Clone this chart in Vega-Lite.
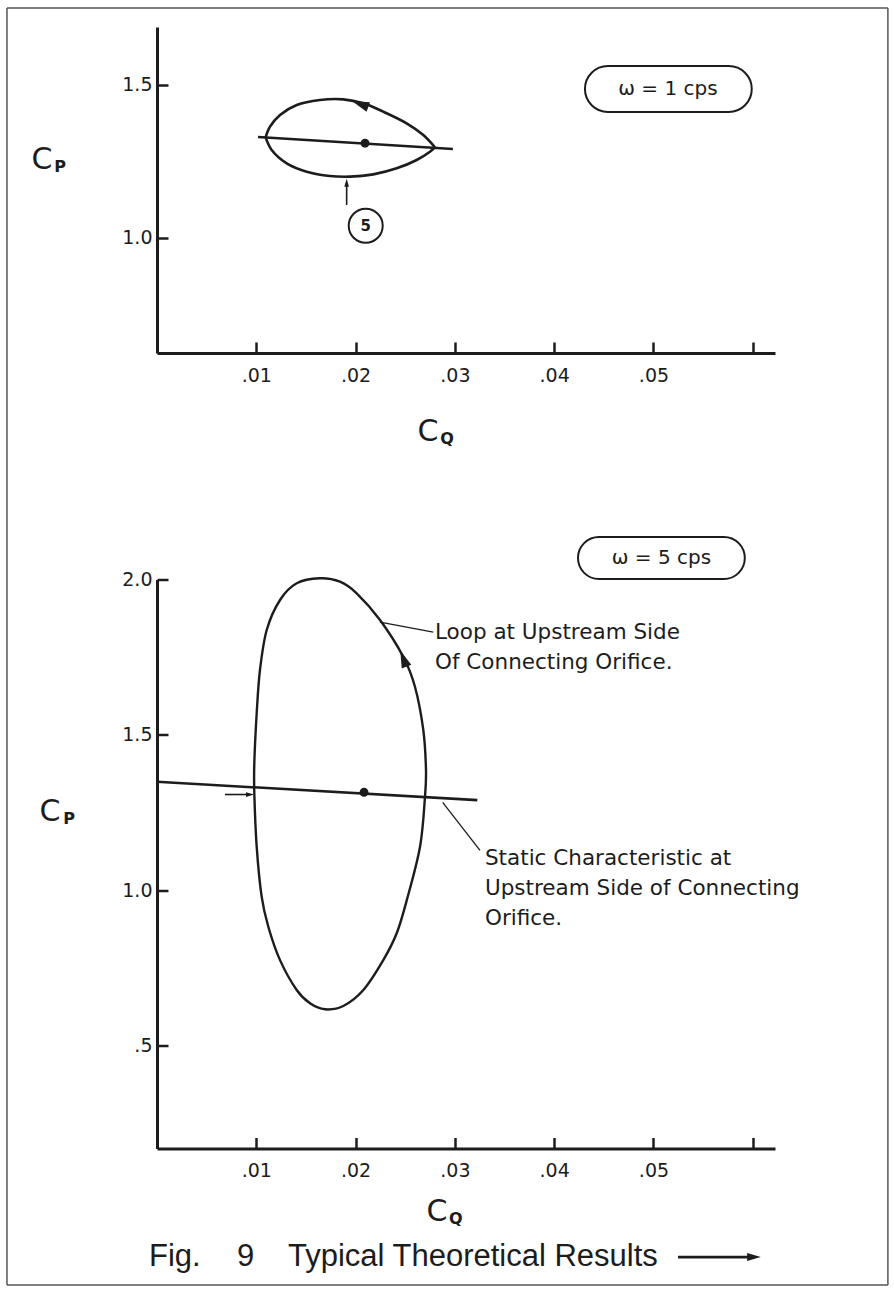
{
  "$schema": "https://vega.github.io/schema/vega-lite/v6.json",
  "background": "#ffffff",
  "padding": {"left": 6, "top": 7, "right": 4, "bottom": 4},
  "spacing": 226.5,
  "bounds": "flush",
  "config": {
    "view": {"stroke": null},
    "axis": {
      "grid": false,
      "domainWidth": 3,
      "domainColor": "#1c1c1c",
      "tickColor": "#1c1c1c",
      "tickWidth": 2.5,
      "tickSize": -11,
      "labelFont": "DejaVu Sans",
      "labelFontSize": 19,
      "labelColor": "#1c1c1c",
      "labelFlush": false,
      "labelBound": false,
      "labelOverlap": false
    },
    "text": {"font": "DejaVu Sans", "color": "#1c1c1c"}
  },
  "datasets": {
    "border1": [
      {"cq": -0.01511, "cq2": 0.07361, "cp": 1.7516, "cp2": 1.7516},
      {"cq": -0.01511, "cq2": -0.01511, "cp": 1.7516, "cp2": 0.2549},
      {"cq": 0.07361, "cq2": 0.07361, "cp": 1.7516, "cp2": 0.2549}
    ],
    "loop1": [
      {"seg": "u", "i": 1, "cq": 0.02800, "cp": 1.2964},
      {"seg": "u", "i": 2, "cq": 0.02682, "cp": 1.3366},
      {"seg": "u", "i": 3, "cq": 0.02514, "cp": 1.3748},
      {"seg": "u", "i": 4, "cq": 0.02279, "cp": 1.4128},
      {"seg": "u", "i": 5, "cq": 0.02078, "cp": 1.4402},
      {"seg": "u", "i": 6, "cq": 0.01876, "cp": 1.4531},
      {"seg": "u", "i": 7, "cq": 0.01641, "cp": 1.4510},
      {"seg": "u", "i": 8, "cq": 0.01407, "cp": 1.4346},
      {"seg": "u", "i": 9, "cq": 0.01239, "cp": 1.4020},
      {"seg": "u", "i": 10, "cq": 0.01138, "cp": 1.3638},
      {"seg": "u", "i": 11, "cq": 0.01094, "cp": 1.3290},
      {"seg": "l", "i": 11, "cq": 0.01094, "cp": 1.3290},
      {"seg": "l", "i": 12, "cq": 0.01155, "cp": 1.2876},
      {"seg": "l", "i": 13, "cq": 0.01306, "cp": 1.2440},
      {"seg": "l", "i": 14, "cq": 0.01507, "cp": 1.2168},
      {"seg": "l", "i": 15, "cq": 0.01742, "cp": 1.2026},
      {"seg": "l", "i": 16, "cq": 0.01944, "cp": 1.2004},
      {"seg": "l", "i": 17, "cq": 0.02178, "cp": 1.2080},
      {"seg": "l", "i": 18, "cq": 0.02414, "cp": 1.2277},
      {"seg": "l", "i": 19, "cq": 0.02615, "cp": 1.2549},
      {"seg": "l", "i": 20, "cq": 0.02749, "cp": 1.2821},
      {"seg": "l", "i": 21, "cq": 0.02800, "cp": 1.2964}
    ],
    "static1": [
      {"i": 1, "cq": 0.01017, "cp": 1.330},
      {"i": 2, "cq": 0.02980, "cp": 1.291}
    ],
    "dot1": [{"cq": 0.02095, "cp": 1.310}],
    "arrow1": [{"cq": 0.02060, "cp": 1.436}],
    "pointer1": [{"cq": 0.0191, "cq2": 0.0191, "cp": 1.108, "cp2": 1.180}],
    "pointerhead1": [{"cq": 0.0191, "cp": 1.178}],
    "tag1": [{"cq": 0.02102, "cp": 1.040, "t": "5"}],
    "box1": [{"cq": 0.0431, "cq2": 0.0599, "cp": 1.412, "cp2": 1.562, "t": "ω = 1 cps", "cqm": 0.05146, "cpm": 1.487}],
    "big1": [
      {"cq": -0.01158, "cp": 1.255, "t": "C"},
      {"cq": 0.02729, "cp": 0.366, "t": "C"}
    ],
    "sub1": [
      {"cq": -0.00977, "cp": 1.232, "t": "P"},
      {"cq": 0.02920, "cp": 0.343, "t": "Q"}
    ],
    "border2": [
      {"cq": -0.01511, "cq2": -0.01511, "cp": 2.3653, "cp2": -0.2707},
      {"cq": 0.07361, "cq2": 0.07361, "cp": 2.3653, "cp2": -0.2707},
      {"cq": -0.01511, "cq2": 0.07361, "cp": -0.2707, "cp2": -0.2707}
    ],
    "loop2": [
      {"i": 1, "cq": 0.01641, "cp": 2.0039},
      {"i": 2, "cq": 0.01407, "cp": 1.9878},
      {"i": 3, "cq": 0.01239, "cp": 1.9340},
      {"i": 4, "cq": 0.01105, "cp": 1.8375},
      {"i": 5, "cq": 0.01037, "cp": 1.7087},
      {"i": 6, "cq": 0.01004, "cp": 1.5694},
      {"i": 7, "cq": 0.00980, "cp": 1.4084},
      {"i": 8, "cq": 0.00980, "cp": 1.3119},
      {"i": 9, "cq": 0.01004, "cp": 1.1400},
      {"i": 10, "cq": 0.01054, "cp": 0.9791},
      {"i": 11, "cq": 0.01121, "cp": 0.8825},
      {"i": 12, "cq": 0.01239, "cp": 0.7750},
      {"i": 13, "cq": 0.01407, "cp": 0.6788},
      {"i": 14, "cq": 0.01541, "cp": 0.6360},
      {"i": 15, "cq": 0.01692, "cp": 0.6167},
      {"i": 16, "cq": 0.01876, "cp": 0.6273},
      {"i": 17, "cq": 0.02078, "cp": 0.6788},
      {"i": 18, "cq": 0.02279, "cp": 0.7750},
      {"i": 19, "cq": 0.02414, "cp": 0.8613},
      {"i": 20, "cq": 0.02515, "cp": 0.9672},
      {"i": 21, "cq": 0.02649, "cp": 1.1400},
      {"i": 22, "cq": 0.02699, "cp": 1.3009},
      {"i": 23, "cq": 0.02709, "cp": 1.3869},
      {"i": 24, "cq": 0.02682, "cp": 1.5156},
      {"i": 25, "cq": 0.02598, "cp": 1.6550},
      {"i": 26, "cq": 0.02480, "cp": 1.7515},
      {"i": 27, "cq": 0.02246, "cp": 1.8697},
      {"i": 28, "cq": 0.02011, "cp": 1.9556},
      {"i": 29, "cq": 0.01843, "cp": 1.9929}
    ],
    "static2": [
      {"i": 1, "cq": 0.0, "cp": 1.349},
      {"i": 2, "cq": 0.03226, "cp": 1.290}
    ],
    "dot2": [{"cq": 0.02085, "cp": 1.315}],
    "arrow2": [{"cq": 0.02487, "cp": 1.741}],
    "leaders2": [
      {"cq": 0.02246, "cq2": 0.02782, "cp": 1.8626, "cp2": 1.8304},
      {"cq": 0.02877, "cq2": 0.03253, "cp": 1.283, "cp2": 1.128}
    ],
    "pointer2": [{"cq": 0.00685, "cq2": 0.0093, "cp": 1.308, "cp2": 1.308}],
    "pointerhead2": [{"cq": 0.0093, "cp": 1.308}],
    "box2": [{"cq": 0.0424, "cq2": 0.0592, "cp": 2.0016, "cp2": 2.1368, "t": "ω = 5 cps", "cqm": 0.0508, "cpm": 2.0676}],
    "notes2": [
      {"cq": 0.0280, "cp": 1.8278, "t": "Loop at Upstream Side"},
      {"cq": 0.0280, "cp": 1.7313, "t": "Of Connecting Orifice."},
      {"cq": 0.03303, "cp": 1.1005, "t": "Static Characteristic at"},
      {"cq": 0.03303, "cp": 1.0039, "t": "Upstream Side of Connecting"},
      {"cq": 0.03303, "cp": 0.9074, "t": "Orifice."}
    ],
    "big2": [
      {"cq": -0.01078, "cp": 1.2517, "t": "C"},
      {"cq": 0.0282, "cp": -0.0357, "t": "C"}
    ],
    "sub2": [
      {"cq": -0.00886, "cp": 1.229, "t": "P"},
      {"cq": 0.0301, "cp": -0.0583, "t": "Q"}
    ],
    "caption2": [
      {"cq": -0.00081, "cp": -0.1806, "t": "Fig."},
      {"cq": 0.00806, "cp": -0.1806, "t": "9"},
      {"cq": 0.01319, "cp": -0.1806, "t": "Typical Theoretical Results"}
    ],
    "captionarrow2": [{"cq": 0.05247, "cq2": 0.0596, "cp": -0.1806, "cp2": -0.1806}],
    "captionhead2": [{"cq": 0.0600, "cp": -0.1806}]
  },
  "vconcat": [
    {
      "width": 618,
      "height": 326,
      "encoding": {
        "x": {
          "field": "cq", "type": "quantitative",
          "scale": {"domain": [0, 0.06224], "zero": false, "nice": false},
          "axis": {
            "title": null,
            "values": [0.01, 0.02, 0.03, 0.04, 0.05, 0.06],
            "labelExpr": "datum.value > 0.055 ? '' : replace(format(datum.value, '.2f'), '0.', '.')",
            "labelPadding": 24
          }
        },
        "y": {
          "field": "cp", "type": "quantitative",
          "scale": {"domain": [0.6242, 1.6895], "zero": false, "nice": false},
          "axis": {
            "title": null,
            "values": [1.0, 1.5],
            "labelExpr": "datum.value < 0.9 ? '.5' : format(datum.value, '.1f')",
            "labelPadding": 16
          }
        }
      },
      "layer": [
        {"data": {"name": "border1"}, "mark": {"type": "rule", "strokeWidth": 1.5, "color": "#555555"},
         "encoding": {"x2": {"field": "cq2"}, "y2": {"field": "cp2"}}},
        {"data": {"name": "loop1"}, "mark": {"type": "line", "interpolate": "catmull-rom", "strokeWidth": 2.6, "color": "#1c1c1c"},
         "encoding": {"order": {"field": "i", "type": "quantitative"}, "detail": {"field": "seg"}}},
        {"data": {"name": "static1"}, "mark": {"type": "line", "strokeWidth": 2.6, "color": "#1c1c1c"},
         "encoding": {"order": {"field": "i", "type": "quantitative"}}},
        {"data": {"name": "dot1"}, "mark": {"type": "point", "shape": "circle", "filled": true, "size": 81, "color": "#1c1c1c", "opacity": 1}},
        {"data": {"name": "arrow1"}, "mark": {"type": "point", "shape": "M -1 0 L 0.7 -0.5 L 0.7 0.5 Z", "filled": true, "size": 420, "angle": 20, "color": "#1c1c1c", "opacity": 1}},
        {"data": {"name": "pointer1"}, "mark": {"type": "rule", "strokeWidth": 1.6, "color": "#1c1c1c"},
         "encoding": {"x2": {"field": "cq2"}, "y2": {"field": "cp2"}}},
        {"data": {"name": "pointerhead1"}, "mark": {"type": "point", "shape": "M 0 -1 L 0.5 0.7 L -0.5 0.7 Z", "filled": true, "size": 90, "color": "#1c1c1c", "opacity": 1}},
        {"data": {"name": "tag1"}, "mark": {"type": "point", "shape": "circle", "filled": false, "size": 1156, "strokeWidth": 2, "color": "#1c1c1c", "opacity": 1}},
        {"data": {"name": "tag1"}, "mark": {"type": "text", "fontSize": 15, "fontWeight": "bold", "align": "center", "baseline": "middle"},
         "encoding": {"text": {"field": "t"}}},
        {"data": {"name": "box1"}, "mark": {"type": "rect", "cornerRadius": 23, "fill": "#ffffff", "fillOpacity": 0, "stroke": "#1c1c1c", "strokeWidth": 2},
         "encoding": {"x2": {"field": "cq2"}, "y2": {"field": "cp2"}}},
        {"data": {"name": "box1"}, "mark": {"type": "text", "fontSize": 20, "align": "center", "baseline": "middle"},
         "encoding": {"x": {"field": "cqm", "type": "quantitative"}, "y": {"field": "cpm", "type": "quantitative"}, "text": {"field": "t"}}},
        {"data": {"name": "big1"}, "mark": {"type": "text", "fontSize": 30, "align": "center", "baseline": "middle"},
         "encoding": {"text": {"field": "t"}}},
        {"data": {"name": "sub1"}, "mark": {"type": "text", "fontSize": 16, "fontWeight": "bold", "align": "center", "baseline": "middle"},
         "encoding": {"text": {"field": "t"}}}
      ]
    },
    {
      "width": 618,
      "height": 569,
      "encoding": {
        "x": {
          "field": "cq", "type": "quantitative",
          "scale": {"domain": [0, 0.06224], "zero": false, "nice": false},
          "axis": {
            "title": null,
            "values": [0.01, 0.02, 0.03, 0.04, 0.05, 0.06],
            "labelExpr": "datum.value > 0.055 ? '' : replace(format(datum.value, '.2f'), '0.', '.')",
            "labelPadding": 24
          }
        },
        "y": {
          "field": "cp", "type": "quantitative",
          "scale": {"domain": [0.1687, 2.0], "zero": false, "nice": false},
          "axis": {
            "title": null,
            "values": [0.5, 1.0, 1.5, 2.0],
            "labelExpr": "datum.value < 0.9 ? '.5' : format(datum.value, '.1f')",
            "labelPadding": 16
          }
        }
      },
      "layer": [
        {"data": {"name": "border2"}, "mark": {"type": "rule", "strokeWidth": 1.5, "color": "#555555"},
         "encoding": {"x2": {"field": "cq2"}, "y2": {"field": "cp2"}}},
        {"data": {"name": "loop2"}, "mark": {"type": "line", "interpolate": "cardinal-closed", "strokeWidth": 2.4, "color": "#1c1c1c"},
         "encoding": {"order": {"field": "i", "type": "quantitative"}}},
        {"data": {"name": "static2"}, "mark": {"type": "line", "strokeWidth": 2.6, "color": "#1c1c1c"},
         "encoding": {"order": {"field": "i", "type": "quantitative"}}},
        {"data": {"name": "dot2"}, "mark": {"type": "point", "shape": "circle", "filled": true, "size": 81, "color": "#1c1c1c", "opacity": 1}},
        {"data": {"name": "arrow2"}, "mark": {"type": "point", "shape": "M 0 -1 L 0.5 0.7 L -0.5 0.7 Z", "filled": true, "size": 420, "angle": -21, "color": "#1c1c1c", "opacity": 1}},
        {"data": {"name": "leaders2"}, "mark": {"type": "rule", "strokeWidth": 1.3, "color": "#1c1c1c"},
         "encoding": {"x2": {"field": "cq2"}, "y2": {"field": "cp2"}}},
        {"data": {"name": "pointer2"}, "mark": {"type": "rule", "strokeWidth": 1.6, "color": "#1c1c1c"},
         "encoding": {"x2": {"field": "cq2"}, "y2": {"field": "cp2"}}},
        {"data": {"name": "pointerhead2"}, "mark": {"type": "point", "shape": "M 1 0 L -0.7 -0.5 L -0.7 0.5 Z", "filled": true, "size": 90, "color": "#1c1c1c", "opacity": 1}},
        {"data": {"name": "box2"}, "mark": {"type": "rect", "cornerRadius": 21, "fill": "#ffffff", "fillOpacity": 0, "stroke": "#1c1c1c", "strokeWidth": 2},
         "encoding": {"x2": {"field": "cq2"}, "y2": {"field": "cp2"}}},
        {"data": {"name": "box2"}, "mark": {"type": "text", "fontSize": 20, "align": "center", "baseline": "middle"},
         "encoding": {"x": {"field": "cqm", "type": "quantitative"}, "y": {"field": "cpm", "type": "quantitative"}, "text": {"field": "t"}}},
        {"data": {"name": "notes2"}, "mark": {"type": "text", "fontSize": 21.5, "align": "left", "baseline": "middle"},
         "encoding": {"text": {"field": "t"}}},
        {"data": {"name": "big2"}, "mark": {"type": "text", "fontSize": 30, "align": "center", "baseline": "middle"},
         "encoding": {"text": {"field": "t"}}},
        {"data": {"name": "sub2"}, "mark": {"type": "text", "fontSize": 16, "fontWeight": "bold", "align": "center", "baseline": "middle"},
         "encoding": {"text": {"field": "t"}}},
        {"data": {"name": "caption2"}, "mark": {"type": "text", "font": "Liberation Sans", "fontSize": 31, "align": "left", "baseline": "middle"},
         "encoding": {"text": {"field": "t"}}},
        {"data": {"name": "captionarrow2"}, "mark": {"type": "rule", "strokeWidth": 2.8, "color": "#1c1c1c"},
         "encoding": {"x2": {"field": "cq2"}, "y2": {"field": "cp2"}}},
        {"data": {"name": "captionhead2"}, "mark": {"type": "point", "shape": "M 1 0 L -0.7 -0.5 L -0.7 0.5 Z", "filled": true, "size": 260, "color": "#1c1c1c", "opacity": 1}}
      ]
    }
  ]
}
